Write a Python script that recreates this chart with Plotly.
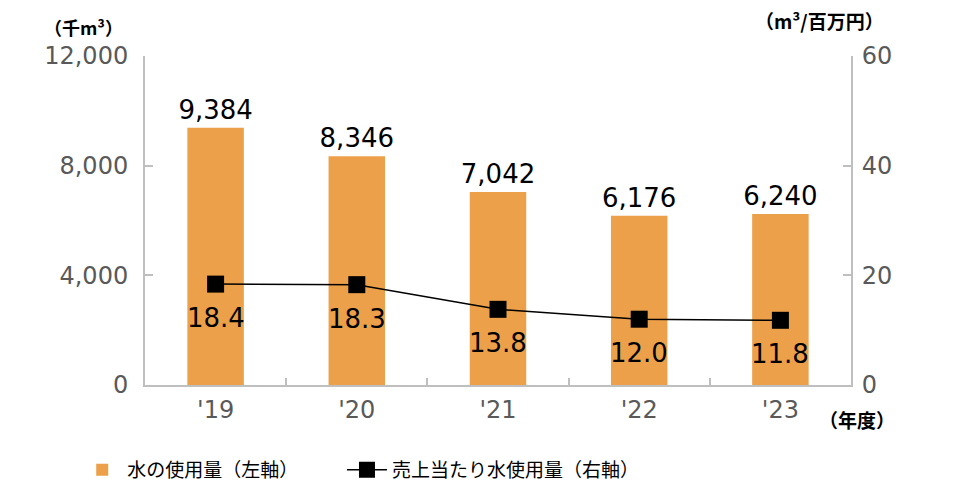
import plotly.graph_objects as go

years = ["'19", "'20", "'21", "'22", "'23"]
water_use = [9384, 8346, 7042, 6176, 6240]
water_per_sales = [18.4, 18.3, 13.8, 12.0, 11.8]
left_ticks = [0, 4000, 8000, 12000]
right_ticks = [0, 20, 40, 60]

num_font = "DejaVu Sans"
jp_font = "Noto Sans CJK JP"

fig = go.Figure()
fig.add_trace(go.Bar(
    x=years, y=water_use, name="水の使用量（左軸）",
    marker=dict(color="#EDA04A", line=dict(width=0)),
    width=0.4,
    text=[f"{v:,}" for v in water_use], textposition="outside",
    constraintext="none",
    textfont=dict(family=num_font, size=26, color="#000000"),
    cliponaxis=False, legend="legend",
))
fig.add_trace(go.Scatter(
    x=years, y=water_per_sales, name="売上当たり水使用量（右軸）", yaxis="y2",
    mode="lines+markers",
    line=dict(color="#000000", width=1.5),
    marker=dict(symbol="square", size=17, color="#000000"),
    cliponaxis=False, legend="legend2",
))

axis_gray = "#BFBFBF"
tick_color = "#595959"

annotations = [
    dict(x=yr, y=v, xref="x", yref="y2", text=f"{v:.1f}", showarrow=False,
         yshift=-34, xanchor="center", yanchor="middle",
         font=dict(family=num_font, size=26, color="#000000"))
    for yr, v in zip(years, water_per_sales)
]
annotations += [
    dict(text="<b>（千m³）</b>", xref="paper", yref="paper", x=-0.087, y=1.088,
         xanchor="center", yanchor="middle", showarrow=False,
         font=dict(family=jp_font, size=18, color="#000000")),
    dict(text="<b>（m³/百万円）</b>", xref="paper", yref="paper", x=0.956, y=1.109,
         xanchor="center", yanchor="middle", showarrow=False,
         font=dict(family=jp_font, size=19, color="#000000")),
    dict(text="<b>（年度）</b>", xref="paper", yref="paper", x=1.0085, y=-0.106,
         xanchor="center", yanchor="middle", showarrow=False,
         font=dict(family=jp_font, size=19, color="#000000")),
]

legend_common = dict(orientation="h", y=-0.2, xanchor="left", yanchor="top",
                     font=dict(family=jp_font, size=19, color="#000000"),
                     itemwidth=40, bgcolor="rgba(0,0,0,0)")

fig.update_layout(
    width=952, height=476,
    margin=dict(l=137, r=109, t=48, b=99, autoexpand=False),
    paper_bgcolor="white", plot_bgcolor="white",
    showlegend=True,
    legend=dict(x=-0.096, **legend_common),
    legend2=dict(x=0.279, **legend_common),
    bargap=0.6,
    xaxis=dict(
        type="category", showline=True, linecolor=axis_gray, linewidth=2,
        ticks="inside", tickson="boundaries", ticklen=7, tickcolor=axis_gray, tickwidth=2,
        showgrid=False, tickfont=dict(family=num_font, size=24, color=tick_color),
        ticklabelstandoff=2, automargin=False,
    ),
    yaxis=dict(
        range=[0, 12000], tickvals=left_ticks, ticktext=[f"{v:,}" for v in left_ticks],
        showline=True, linecolor=axis_gray, linewidth=2,
        ticks="inside", ticklen=8, tickcolor=axis_gray, tickwidth=2,
        showgrid=False, zeroline=False,
        tickfont=dict(family=num_font, size=24, color=tick_color),
        ticklabelstandoff=10, automargin=False,
    ),
    yaxis2=dict(
        range=[0, 60], tickvals=right_ticks, overlaying="y", side="right",
        showline=True, linecolor=axis_gray, linewidth=2,
        ticks="inside", ticklen=8, tickcolor=axis_gray, tickwidth=2,
        showgrid=False, zeroline=False,
        tickfont=dict(family=num_font, size=24, color=tick_color),
        ticklabelstandoff=4, automargin=False,
    ),
    annotations=annotations,
)

fig.write_html("out.html")
